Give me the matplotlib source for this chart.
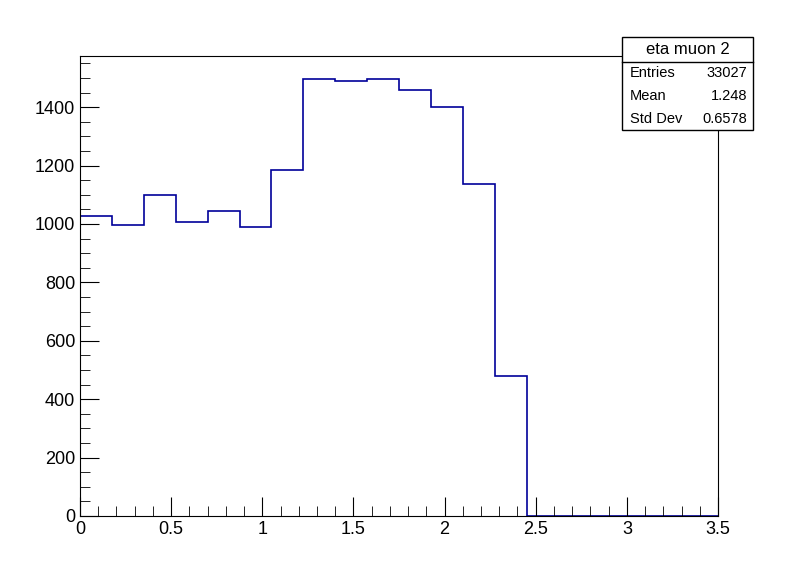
import numpy as np
import matplotlib.pyplot as plt
from matplotlib.ticker import MultipleLocator

plt.rcParams['font.family'] = 'Liberation Sans'

bin_edges = np.linspace(0, 3.5, 21)
counts = [1027, 996, 1099, 1006, 1044, 989, 1184, 1496, 1489, 1496,
          1458, 1400, 1137, 479, 0, 0, 0, 0, 0, 0]
title = 'eta muon 2'
stats = [('Entries', '33027'), ('Mean', '1.248'), ('Std Dev', '0.6578')]

fig = plt.figure(figsize=(7.98, 5.74), dpi=100)
ax = fig.add_axes([80/798, 58/574, 638/798, 460/574])

ax.stairs(counts, bin_edges, color='#000099', lw=1.2)
ax.set_xlim(0, 3.5)
ax.set_ylim(0, 1575)

ax.xaxis.set_major_locator(MultipleLocator(0.5))
ax.xaxis.set_minor_locator(MultipleLocator(0.1))
ax.yaxis.set_major_locator(MultipleLocator(200))
ax.yaxis.set_minor_locator(MultipleLocator(50))
ax.set_xticklabels([f'{v:g}' for v in ax.get_xticks()])
ax.tick_params(direction='in', which='major', labelsize=13, top=False, right=False)
ax.tick_params(axis='x', which='major', length=14)
ax.tick_params(axis='x', which='minor', direction='in', length=7, top=False)
ax.tick_params(axis='y', which='major', length=14)
ax.tick_params(axis='y', which='minor', direction='in', length=7, right=False)
for s in ax.spines.values():
    s.set_linewidth(0.8)

# stats box
bx0, bx1, by0, by1 = 622/798, 753/798, 1 - 130/574, 1 - 37/574
fig.patches.append(plt.Rectangle((bx0, by0), bx1 - bx0, by1 - by0, transform=fig.transFigure,
                                 fc='white', ec='black', lw=1))
ty = 1 - 62/574
fig.add_artist(plt.Line2D([bx0, bx1], [ty, ty], color='black', lw=1))
fig.text((bx0 + bx1) / 2, (ty + by1) / 2, title, ha='center', va='center', fontsize=12)
rh = (ty - by0) / 3
for i, (k, v) in enumerate(stats):
    yy = ty - rh * (i + 0.5)
    fig.text(bx0 + 8/798, yy, k, ha='left', va='center', fontsize=10.5)
    fig.text(bx1 - 6/798, yy, v, ha='right', va='center', fontsize=10.5)

fig.savefig('out.png', dpi=100)
